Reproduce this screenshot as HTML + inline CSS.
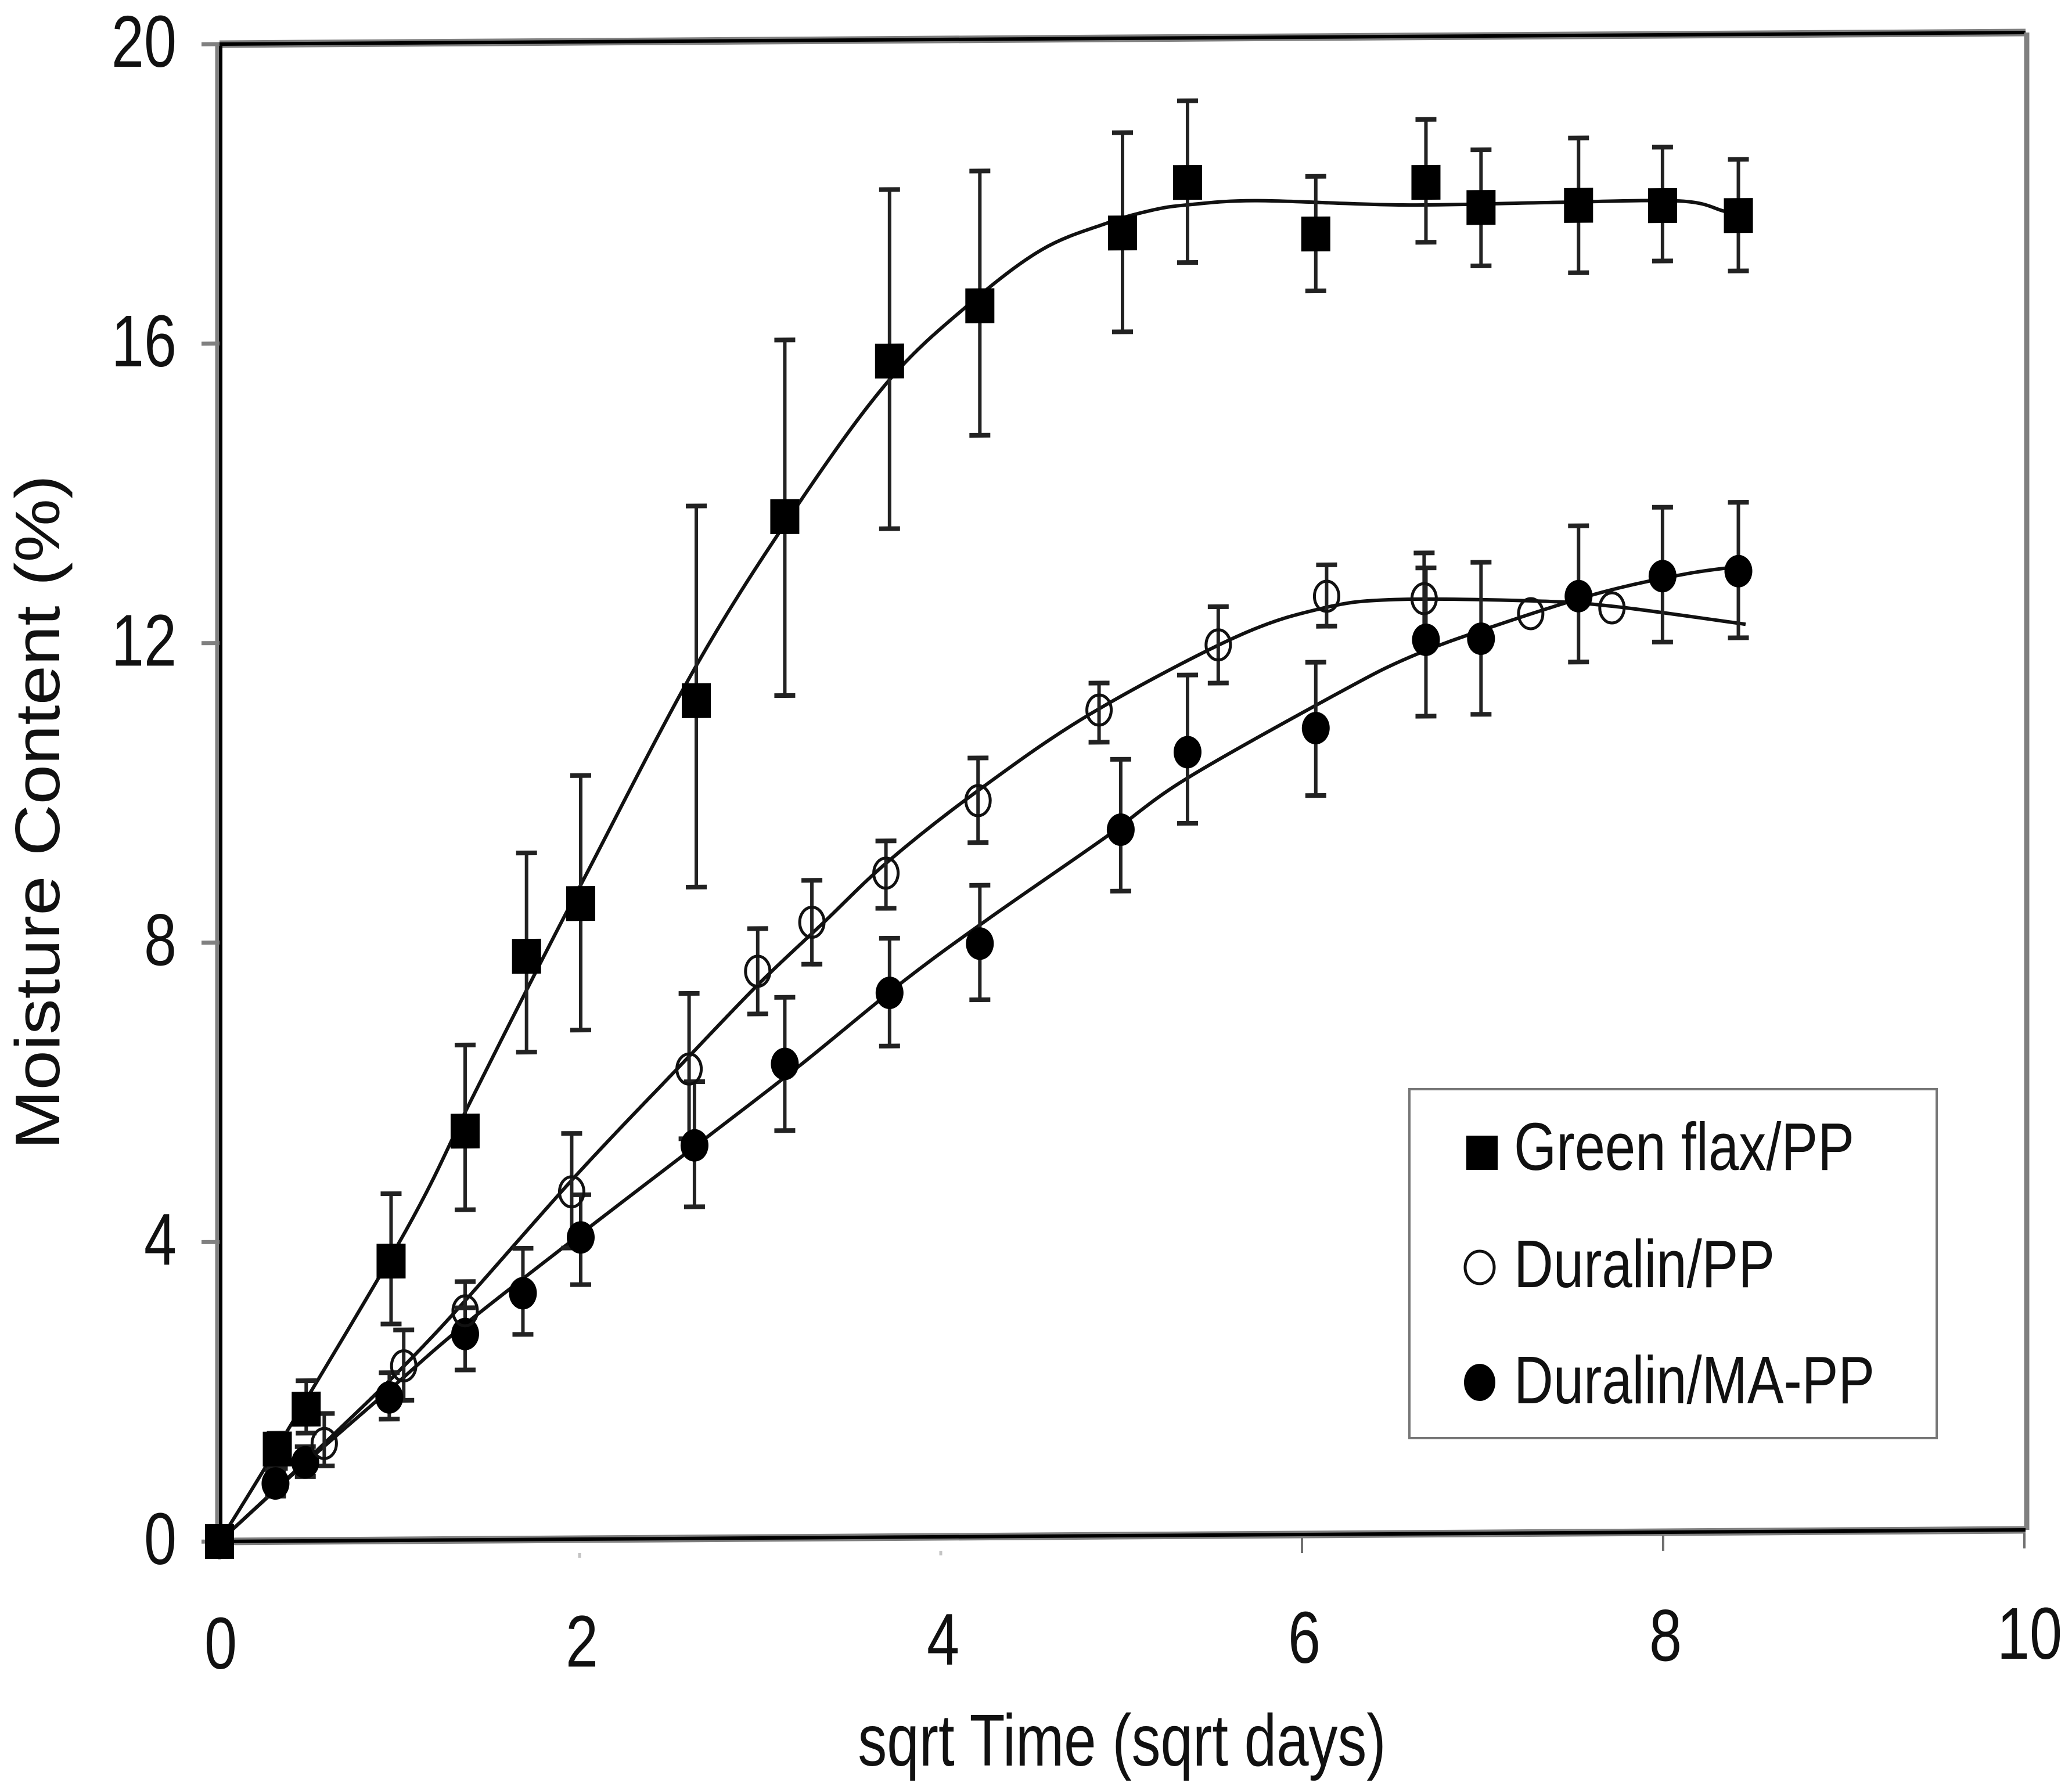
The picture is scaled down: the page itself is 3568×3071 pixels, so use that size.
<!DOCTYPE html>
<html lang="en">
<head>
<meta charset="utf-8">
<title>Moisture Content vs sqrt Time</title>
<style>
html,body{margin:0;padding:0;background:#fff;}
svg{display:block;}
text{font-family:"Liberation Sans",Arial,sans-serif;fill:#111;}
</style>
</head>
<body>
<svg id="chart" xmlns="http://www.w3.org/2000/svg" width="3568" height="3071" viewBox="0 0 3568 3071">
  <rect x="0" y="0" width="3568" height="3071" fill="#fff"/>
  <g id="plot" transform="matrix(1,-0.00643,0,1,0,2.43)"></g>
  <g id="labels"></g>
  <text font-size="126" text-anchor="middle" transform="translate(1932,3041) scale(0.792,1)">sqrt Time (sqrt days)</text>
  <text font-size="123" text-anchor="middle" transform="translate(102,1399) rotate(-90) scale(1,0.88)">Moisture Content (%)</text>
  <g>
    <rect x="2427" y="1876" width="908" height="601" fill="#fff" stroke="#777" stroke-width="4"/>
    <rect x="2525" y="1956" width="54" height="59" fill="#000"/>
    <text x="2607" y="2015" font-size="116" textLength="586" lengthAdjust="spacingAndGlyphs">Green flax/PP</text>
    <ellipse cx="2548" cy="2183" rx="25" ry="28" fill="#fff" stroke="#111" stroke-width="5"/>
    <text x="2607" y="2217" font-size="116" textLength="449" lengthAdjust="spacingAndGlyphs">Duralin/PP</text>
    <ellipse cx="2548" cy="2381" rx="27" ry="32" fill="#000"/>
    <text x="2607" y="2417" font-size="116" textLength="621" lengthAdjust="spacingAndGlyphs">Duralin/MA-PP</text>
  </g>
</svg>
<script>
// Axis tick labels
const xTicks = [0, 2, 4, 6, 8, 10];
const yTicks = [0, 4, 8, 12, 16, 20];

// Green flax/PP
const flaxX = [0, 0.32, 0.48, 0.95, 1.36, 1.70, 2.0, 2.64, 3.13, 3.71, 4.21, 5.0, 5.36, 6.07, 6.68, 6.985, 7.525, 7.99, 8.41];
const flaxY = [0, 1.23, 1.76, 3.73, 5.46, 7.79, 8.49, 11.19, 13.64, 15.71, 16.44, 17.4, 18.07, 17.37, 18.05, 17.71, 17.73, 17.72, 17.58];
const flaxHi = [0, 1.44, 2.14, 4.63, 6.61, 9.17, 10.2, 13.79, 16.0, 18.0, 18.24, 18.74, 19.16, 18.14, 18.89, 18.48, 18.63, 18.5, 18.33];
const flaxLo = [0, 0.97, 1.44, 2.89, 4.41, 6.51, 6.8, 8.7, 11.25, 13.47, 14.71, 16.08, 17.0, 16.61, 17.25, 16.93, 16.83, 16.98, 16.84];
const flaxFitX = [0, 0.32, 1.035, 1.38, 1.69, 2.02, 2.65, 3.22, 3.71, 4.145, 4.55, 4.91, 5.16, 5.36, 5.75, 6.55, 7.36, 8.08, 8.33, 8.45];
const flaxFitY = [0, 1.25, 4.15, 5.81, 7.29, 8.83, 11.70, 13.86, 15.46, 16.45, 17.18, 17.53, 17.70, 17.77, 17.82, 17.75, 17.77, 17.78, 17.64, 17.56];

// Duralin/PP
const ppX = [0, 0.58, 1.02, 1.36, 1.95, 2.60, 2.98, 3.28, 3.69, 4.2, 4.87, 5.53, 6.13, 6.67, 7.26, 7.71];
const ppY = [0, 1.30, 2.33, 3.06, 4.64, 6.27, 7.57, 8.22, 8.87, 9.83, 11.03, 11.89, 12.53, 12.49, 12.28, 12.35];
const ppHi = [0, 1.70, 2.81, 3.45, 5.42, 7.28, 8.14, 8.78, 9.3, 10.4, 11.39, 12.4, 12.95, 13.1, 12.28, 12.35];
const ppLo = [0, 1.0, 1.87, 2.75, 3.89, 5.34, 7.0, 7.66, 8.4, 9.27, 10.6, 11.38, 12.13, 11.97, 12.28, 12.35];
const ppFitX = [0, 0.58, 1.183, 1.971, 2.537, 2.977, 3.347, 3.704, 4.209, 4.823, 5.624, 6.106, 6.51, 7.277, 7.72, 8.45];
const ppFitY = [0, 1.30, 2.73, 4.85, 6.28, 7.38, 8.22, 9.03, 9.98, 10.98, 11.99, 12.37, 12.48, 12.45, 12.37, 12.12];

// Duralin/MA-PP
const maX = [0, 0.31, 0.475, 0.94, 1.36, 1.68, 2.0, 2.63, 3.13, 3.71, 4.21, 4.99, 5.36, 6.07, 6.68, 6.985, 7.525, 7.99, 8.41];
const maY = [0, 0.77, 1.05, 1.91, 2.75, 3.29, 4.03, 5.25, 6.33, 7.27, 7.92, 9.43, 10.46, 10.77, 11.94, 11.95, 12.51, 12.77, 12.83];
const maHi = [0, 0.95, 1.26, 2.24, 3.1, 3.89, 4.6, 6.1, 7.22, 8.0, 8.7, 10.37, 11.49, 11.65, 12.9, 12.97, 13.45, 13.69, 13.75];
const maLo = [0, 0.6, 0.86, 1.62, 2.27, 2.74, 3.4, 4.43, 5.44, 6.56, 7.17, 8.61, 9.51, 9.87, 10.92, 10.94, 11.63, 11.89, 11.94];
const maFitX = [0, 0.475, 0.94, 1.36, 2.067, 2.733, 3.225, 3.79, 4.257, 4.894, 5.35, 6.19, 6.59, 7.036, 7.64, 8.125, 8.45];
const maFitY = [0, 1.04, 2.01, 2.88, 4.2, 5.42, 6.33, 7.43, 8.25, 9.31, 10.1, 11.23, 11.71, 12.1, 12.55, 12.8, 12.9];

const NS = 'http://www.w3.org/2000/svg';
const plot = document.getElementById('plot');
const labels = document.getElementById('labels');

function sx(v) { return 378 + 311 * v; }
function sy(v) { return 2655 - 128.95 * v; }

function make(tag, parent, attrs) {
  const el = document.createElementNS(NS, tag);
  for (const k in attrs) el.setAttribute(k, attrs[k]);
  parent.appendChild(el);
  return el;
}

function smoothPath(xs, ys) {
  const p = xs.map((x, i) => [sx(x), sy(ys[i])]);
  let d = 'M' + p[0][0] + ' ' + p[0][1];
  for (let i = 0; i < p.length - 1; i++) {
    const a = p[Math.max(i - 1, 0)], b = p[i], c = p[i + 1], e = p[Math.min(i + 2, p.length - 1)];
    const c1x = b[0] + (c[0] - a[0]) / 6, c1y = b[1] + (c[1] - a[1]) / 6;
    const c2x = c[0] - (e[0] - b[0]) / 6, c2y = c[1] - (e[1] - b[1]) / 6;
    d += 'C' + c1x + ' ' + c1y + ' ' + c2x + ' ' + c2y + ' ' + c[0] + ' ' + c[1];
  }
  return d;
}

// Frame: grey halo with a black core, like the scanned original
const frameTopHalo = make('line', plot, {x1: sx(0), y1: sy(20), x2: sx(10), y2: sy(20), stroke: '#808080', 'stroke-width': 13});


const frameTop = make('line', plot, {x1: sx(0), y1: sy(20), x2: sx(10), y2: sy(20), stroke: '#000', 'stroke-width': 6});


const frameLeftHalo = make('line', plot, {x1: sx(0) - 4, y1: sy(20), x2: sx(0) - 4, y2: sy(0), stroke: '#808080', 'stroke-width': 7});


const frameLeft = make('line', plot, {x1: sx(0) + 2, y1: sy(20), x2: sx(0) + 2, y2: sy(0), stroke: '#000', 'stroke-width': 6});


const frameRight = make('line', plot, {x1: sx(10) + 2, y1: sy(20), x2: sx(10) + 2, y2: sy(0), stroke: '#808080', 'stroke-width': 9});


const frameBottomHalo = make('line', plot, {x1: sx(0), y1: sy(0), x2: sx(10), y2: sy(0), stroke: '#808080', 'stroke-width': 13});


const frameBottom = make('line', plot, {x1: sx(0), y1: sy(0), x2: sx(10), y2: sy(0), stroke: '#000', 'stroke-width': 6});



// Ticks and tick labels
xTicks.forEach(function (v) {
  const faint = v < 6;
  const t = make('line', plot, {x1: sx(v) - (v === 0 ? 0 : 2), y1: sy(0) + (faint ? 24 : 6), x2: sx(v) - (v === 0 ? 0 : 2), y2: sy(0) + 32, stroke: faint ? '#c4c4c4' : '#707070', 'stroke-width': faint ? 5 : 4});
  
  
  const l = make('text', labels, {'font-size': 126, 'text-anchor': 'middle', transform: 'translate(' + (sx(v) + (v === 10 ? 7 : 2)) + ',' + (2874 - 1.7 * v) + ') scale(0.8,1)'});
  l.textContent = String(v);
  
  
});
yTicks.forEach(function (v) {
  const t = make('line', plot, {x1: sx(0) - 31, y1: sy(v), x2: sx(0), y2: sy(v), stroke: '#808080', 'stroke-width': 7});
  
  
  const l = make('text', labels, {'font-size': 126, 'text-anchor': 'end', transform: 'translate(304,' + (sy(v) + 39) + ') scale(0.8,1)'});
  l.textContent = String(v);
  
  
});

// Series fit curves
const flaxCurve = make('path', plot, {d: smoothPath(flaxFitX, flaxFitY), fill: 'none', stroke: '#111', 'stroke-width': 6});


const ppCurve = make('path', plot, {d: smoothPath(ppFitX, ppFitY), fill: 'none', stroke: '#111', 'stroke-width': 6});


const maCurve = make('path', plot, {d: smoothPath(maFitX, maFitY), fill: 'none', stroke: '#111', 'stroke-width': 6});



function drawErrors(xs, hi, lo, seriesName) {
  xs.forEach(function (x, i) {
    if (hi[i] === lo[i]) return;
    const stem = make('line', plot, {x1: sx(x), y1: sy(hi[i]), x2: sx(x), y2: sy(lo[i]), stroke: '#222', 'stroke-width': 6});
    
    
    const caps = make('path', plot, {d: 'M' + (sx(x) - 18) + ' ' + sy(hi[i]) + 'H' + (sx(x) + 18) + 'M' + (sx(x) - 18) + ' ' + sy(lo[i]) + 'H' + (sx(x) + 18), fill: 'none', stroke: '#222', 'stroke-width': 8});
    
    
  });
}

drawErrors(maX, maHi, maLo, 'duralin-ma-pp');
drawErrors(ppX, ppHi, ppLo, 'duralin-pp');
drawErrors(flaxX, flaxHi, flaxLo, 'green-flax');

// Markers
maX.forEach(function (x, i) {
  const m = make('ellipse', plot, {cx: sx(x), cy: sy(maY[i]), rx: 24, ry: 28, fill: '#000'});
  
  
});
ppX.forEach(function (x, i) {
  const m = make('ellipse', plot, {cx: sx(x), cy: sy(ppY[i]), rx: 21, ry: 26, fill: 'none', stroke: '#111', 'stroke-width': 5});
  
  
});
flaxX.forEach(function (x, i) {
  const m = make('rect', plot, {x: sx(x) - 25, y: sy(flaxY[i]) - 30, width: 50, height: 60, fill: '#000'});
  
  
});
</script>
</body>
</html>
